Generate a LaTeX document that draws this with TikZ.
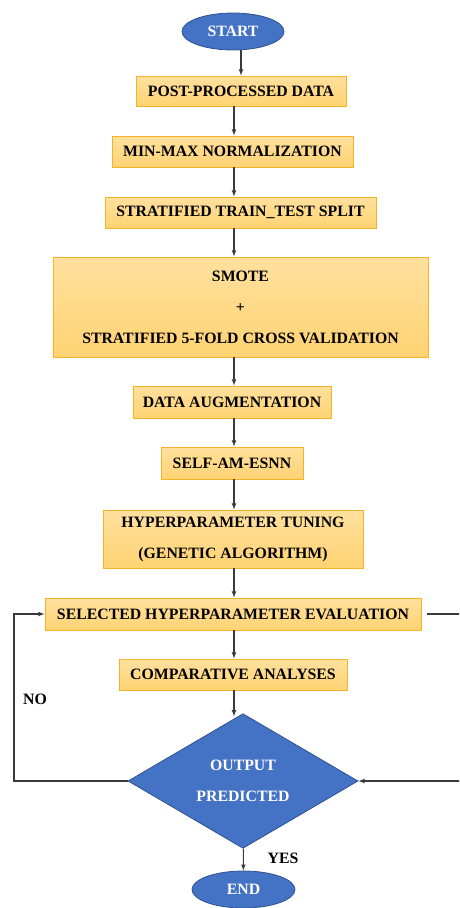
\documentclass[tikz,border=0pt]{standalone}
\usepackage{fontspec}
\setmainfont{Liberation Serif}
\usepackage{tikz}
\usetikzlibrary{shapes.geometric, calc}
\definecolor{boxtop}{RGB}{255,224,158}
\definecolor{boxbot}{RGB}{255,211,115}
\definecolor{boxline}{RGB}{245,180,40}
\definecolor{termblue}{RGB}{68,114,196}
\definecolor{termline}{RGB}{47,82,143}
\definecolor{arrline}{RGB}{58,58,58}

\begin{document}
\begin{tikzpicture}[x=1pt,y=1pt,
  txt/.style={font=\fontsize{15.8}{31}\selectfont\bfseries},
  box/.style={txt, rectangle, draw=boxline, line width=0.9pt, top color=boxtop, bottom color=boxbot, inner sep=0pt, align=center},
  term/.style={txt, ellipse, draw=termline, line width=0.8pt, fill=termblue, text=white, inner sep=0pt},
  decide/.style={txt, diamond, draw=termline, line width=0.8pt, fill=termblue, text=white, inner sep=0pt, align=center},
  arr/.style={->, >=latex, draw=arrline, line width=1.1pt}]
\clip (0,0) rectangle (459,-908);
\node[term, minimum width=102, minimum height=37] (start) at (233,-31.5) {START};
\node[box, minimum width=210, minimum height=30] (post) at (241,-91) {POST-PROCESSED DATA};
\node[box, minimum width=241, minimum height=31] (minmax) at (232.5,-151.5) {MIN-MAX NORMALIZATION};
\node[box, minimum width=271, minimum height=31] (train) at (240.5,-212.5) {STRATIFIED TRAIN\_TEST SPLIT};
\node[box, minimum width=375, minimum height=100] (smote) at (240.5,-307) {SMOTE\\+\\STRATIFIED 5-FOLD CROSS VALIDATION};
\node[box, minimum width=198, minimum height=32] (aug) at (232,-402) {DATA AUGMENTATION};
\node[box, minimum width=142, minimum height=32] (self) at (232,-463) {SELF-AM-ESNN};
\node[box, minimum width=260, minimum height=58] (tune) at (233,-539) {HYPERPARAMETER TUNING\\(GENETIC ALGORITHM)};
\node[box, minimum width=376, minimum height=32] (sel) at (233,-614) {SELECTED HYPERPARAMETER EVALUATION};
\node[box, minimum width=228, minimum height=31] (comp) at (233,-674.5) {COMPARATIVE ANALYSES};
\node[decide, minimum width=230, minimum height=125] (dec) at (243,-781) {OUTPUT\\PREDICTED};
\node[term, minimum width=103, minimum height=37] (end) at (243.5,-889.5) {END};
\node[txt] (no) at (35,-699) {NO};
\node[txt] (yes) at (283,-858) {YES};
\coordinate (axis) at (234,0);
\coordinate (loopL) at (14,-781);
\coordinate (rEdge) at (466,0);
\draw[arr] (start.south -| post) -- (post);
\draw[arr] (post.south -| axis) -- (minmax.north -| axis);
\draw[arr] (minmax.south -| axis) -- (train.north -| axis);
\draw[arr] (train.south -| axis) -- (smote.north -| axis);
\draw[arr] (smote.south -| axis) -- (aug.north -| axis);
\draw[arr] (aug.south -| axis) -- (self.north -| axis);
\draw[arr] (self.south -| axis) -- (tune.north -| axis);
\draw[arr] (tune.south -| axis) -- (sel.north -| axis);
\draw[arr] (sel.south -| axis) -- (comp.north -| axis);
\draw[arr] (comp.south -| axis) -- ($(dec.north -| axis)+(0,-3)$);
\draw[arr] (dec) -- (end);
\draw[arr] (dec.west) -- (loopL) |- (sel.west);
\draw[arr] ([xshift=6pt]sel.east) -- (sel.east -| rEdge) -- (dec.east -| rEdge) -- (dec.east);
\end{tikzpicture}
\end{document}
